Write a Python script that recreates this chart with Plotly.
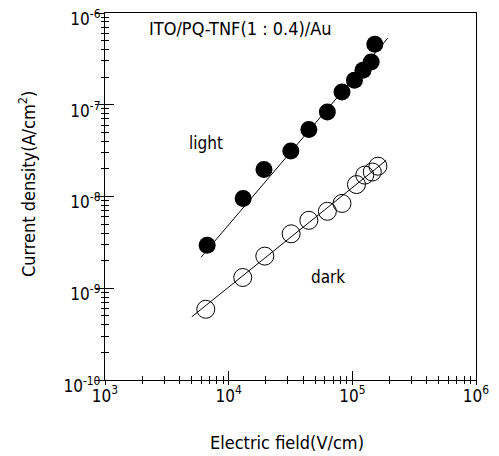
import plotly.graph_objects as go

# Light (filled circles)
light_field = [6.7e3, 1.31e4, 1.93e4, 3.18e4, 4.45e4, 6.28e4, 8.25e4, 1.04e5, 1.22e5, 1.42e5, 1.52e5]
light_current = [2.95e-9, 9.5e-9, 1.97e-8, 3.14e-8, 5.37e-8, 8.35e-8, 1.38e-7, 1.85e-7, 2.38e-7, 2.92e-7, 4.56e-7]
# Dark (open circles)
dark_field = [6.53e3, 1.30e4, 1.96e4, 3.2e4, 4.45e4, 6.28e4, 8.25e4, 1.08e5, 1.26e5, 1.45e5, 1.61e5]
dark_current = [5.9e-10, 1.31e-9, 2.24e-9, 3.92e-9, 5.5e-9, 6.9e-9, 8.4e-9, 1.35e-8, 1.71e-8, 1.85e-8, 2.14e-8]
# Fitted lines (end points)
light_fit_field = [5.98e3, 1.93e5]
light_fit_current = [2.18e-9, 5.3e-7]
dark_fit_field = [5.03e3, 1.88e5]
dark_fit_current = [4.88e-10, 2.48e-8]

x_tickvals = [1e3, 1e4, 1e5, 1e6]
x_ticktext = ["10<sup>3</sup>", "10<sup>4</sup>", "10<sup>5</sup>", "10<sup>6</sup>"]
y_tickvals = [1e-10, 1e-9, 1e-8, 1e-7, 1e-6]
y_ticktext = ["10<sup>-10</sup>", "10<sup>-9</sup>", "10<sup>-8</sup>", "10<sup>-7</sup>", "10<sup>-6</sup>"]

FONT = "DejaVu Sans Condensed, Liberation Sans Narrow, sans-serif"

fig = go.Figure()
fig.add_trace(go.Scatter(x=light_fit_field, y=light_fit_current, mode="lines",
                         line=dict(color="black", width=1), showlegend=False))
fig.add_trace(go.Scatter(x=dark_fit_field, y=dark_fit_current, mode="lines",
                         line=dict(color="black", width=1), showlegend=False))
fig.add_trace(go.Scatter(x=light_field, y=light_current, mode="markers",
                         marker=dict(size=17, color="black", line=dict(width=0)), showlegend=False))
fig.add_trace(go.Scatter(x=dark_field, y=dark_current, mode="markers",
                         marker=dict(size=18, color="rgba(0,0,0,0)", line=dict(width=1, color="black")),
                         showlegend=False))
fig.add_trace(go.Scatter(x=[1e3], y=[1e-10], xaxis="x2", yaxis="y2", mode="markers",
                         marker=dict(opacity=0), showlegend=False, hoverinfo="skip"))

axis_common = dict(showgrid=False, zeroline=False, linecolor="black", linewidth=1.3,
                   tickcolor="black", tickwidth=1, automargin=False, ticklabeloverflow="allow",
                   tickfont=dict(family=FONT, size=17, color="black"))

fig.update_layout(
    width=491, height=448,
    margin=dict(l=97, r=23, t=5, b=76),
    paper_bgcolor="white", plot_bgcolor="white",
    xaxis=dict(type="log", range=[3, 6], tickvals=x_tickvals, ticktext=x_ticktext,
               ticks="inside", ticklen=9, mirror=True,
               minor=dict(ticks="inside", ticklen=4, dtick="D1", tickcolor="black"),
               **axis_common),
    yaxis=dict(type="log", range=[-10, -6], tickvals=y_tickvals, ticktext=y_ticktext,
               ticks="inside", ticklen=9, mirror=True, ticklabelshift=6,
               minor=dict(ticks="inside", ticklen=4, dtick="D1", tickcolor="black"),
               **axis_common),
    xaxis2=dict(type="log", range=[3, 6], overlaying="x", anchor="y2", showticklabels=False,
                tickvals=x_tickvals, ticks="outside", ticklen=4, showline=False, showgrid=False,
                zeroline=False, tickcolor="black", automargin=False,
                minor=dict(ticks="outside", ticklen=3, dtick="D1", tickcolor="black")),
    yaxis2=dict(type="log", range=[-10, -6], overlaying="y", anchor="x2", showticklabels=False,
                tickvals=y_tickvals, ticks="outside", ticklen=9, showline=False, showgrid=False,
                zeroline=False, tickcolor="black", automargin=False,
                minor=dict(ticks="outside", ticklen=3, dtick="D1", tickcolor="black")),
)

fig.add_annotation(x=0.49, y=-0.169, xref="paper", yref="paper", text="Electric field(V/cm)",
                   showarrow=False, xanchor="center", yanchor="middle",
                   font=dict(family=FONT, size=18, color="black"))
fig.add_annotation(x=-0.21, y=0.534, xref="paper", yref="paper", text="Current density(A/cm<sup>2</sup>)",
                   showarrow=False, textangle=-90, xanchor="center", yanchor="middle",
                   font=dict(family=FONT, size=18, color="black"))
fig.add_annotation(x=4.093, y=-6.167, xref="x", yref="y", text="ITO/PQ-TNF(1 : 0.4)/Au",
                   showarrow=False, font=dict(family=FONT, size=18, color="black"))
fig.add_annotation(x=3.817, y=-7.419, xref="x", yref="y", text="light",
                   showarrow=False, font=dict(family=FONT, size=17, color="black"))
fig.add_annotation(x=4.8, y=-8.879, xref="x", yref="y", text="dark",
                   showarrow=False, font=dict(family=FONT, size=17, color="black"))

fig.write_html("out.html")
